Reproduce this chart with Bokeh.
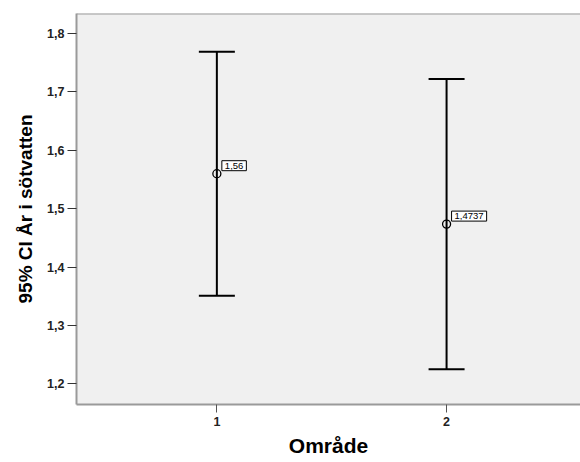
from bokeh.plotting import figure
from bokeh.models import ColumnDataSource, FixedTicker, Label, Span, Range1d
from bokeh.embed import file_html
from bokeh.resources import INLINE

# Data
areas = [1, 2]
means = [1.56, 1.4737]
lower = [1.351, 1.225]
upper = [1.769, 1.722]
mean_labels = ["1,56", "1,4737"]
y_ticks = [1.2, 1.3, 1.4, 1.5, 1.6, 1.7, 1.8]
y_tick_labels = ["1,2", "1,3", "1,4", "1,5", "1,6", "1,7", "1,8"]
x_ticks = [1, 2]
x_tick_labels = ["1", "2"]

FONT = "Liberation Sans"
BORDER = "#9a9a9a"

src = ColumnDataSource(dict(x=areas, mean=means, lo=lower, hi=upper, lab=mean_labels))

p = figure(width=580, height=462, output_backend="svg", toolbar_location=None,
           x_range=Range1d(0.389, 2.583), y_range=Range1d(1.1648, 1.8343),
           min_border_left=76, min_border_right=0, min_border_top=13, min_border_bottom=58)

p.background_fill_color = "#f0f0f0"
p.border_fill_color = "white"
p.outline_line_color = None
p.grid.visible = False

# top border of the plot frame
p.add_layout(Span(location=1.8343, dimension="width", line_color=BORDER, line_width=2))

# error bars
p.segment(x0="x", y0="lo", x1="x", y1="hi", source=src, line_color="black", line_width=2)
p.dash(x="x", y="hi", source=src, size=36, line_color="black", line_width=2)
p.dash(x="x", y="lo", source=src, size=36, line_color="black", line_width=2)
p.scatter(x="x", y="mean", source=src, marker="circle", size=8, fill_color=None,
          line_color="black", line_width=1.3)

for xv, mv, lab in zip(areas, means, mean_labels):
    p.add_layout(Label(x=xv, y=mv, text=lab, x_offset=5, y_offset=3,
                       text_font=FONT, text_font_size="9.5px", text_color="black",
                       text_baseline="bottom", text_align="left",
                       background_fill_color="white", border_line_color="black",
                       border_line_width=1, padding=(3, 2)))

# y axis
p.yaxis.ticker = FixedTicker(ticks=y_ticks)
p.yaxis.major_label_overrides = {t: l for t, l in zip(y_ticks, y_tick_labels)}
p.yaxis.minor_tick_line_color = None
p.yaxis.major_tick_out = 9
p.yaxis.major_tick_in = 0
p.yaxis.major_tick_line_color = "#333333"
p.yaxis.major_tick_line_width = 1
p.yaxis.axis_line_color = BORDER
p.yaxis.axis_line_width = 2
p.yaxis.major_label_standoff = 3
p.yaxis.major_label_text_font = FONT
p.yaxis.major_label_text_font_style = "bold"
p.yaxis.major_label_text_font_size = "12.5px"
p.yaxis.major_label_text_color = "#222222"
p.yaxis.axis_label = "95% CI År i sötvatten"
p.yaxis.axis_label_text_font = FONT
p.yaxis.axis_label_text_font_style = "bold"
p.yaxis.axis_label_text_font_size = "19px"
p.yaxis.axis_label_text_color = "black"
p.yaxis.axis_label_standoff = 8

# x axis
p.xaxis.ticker = FixedTicker(ticks=x_ticks)
p.xaxis.major_label_overrides = {t: l for t, l in zip(x_ticks, x_tick_labels)}
p.xaxis.minor_tick_line_color = None
p.xaxis.major_tick_out = 8
p.xaxis.major_tick_in = 0
p.xaxis.major_tick_line_color = "#555555"
p.xaxis.axis_line_color = BORDER
p.xaxis.axis_line_width = 2
p.xaxis.major_label_standoff = 4
p.xaxis.major_label_text_font = FONT
p.xaxis.major_label_text_font_style = "bold"
p.xaxis.major_label_text_font_size = "12.5px"
p.xaxis.major_label_text_color = "#222222"
p.xaxis.axis_label = "Område"
p.xaxis.axis_label_text_font = FONT
p.xaxis.axis_label_text_font_style = "bold"
p.xaxis.axis_label_text_font_size = "21px"
p.xaxis.axis_label_text_color = "black"
p.xaxis.axis_label_standoff = 5

open("out.html", "w").write(file_html(p, INLINE))
